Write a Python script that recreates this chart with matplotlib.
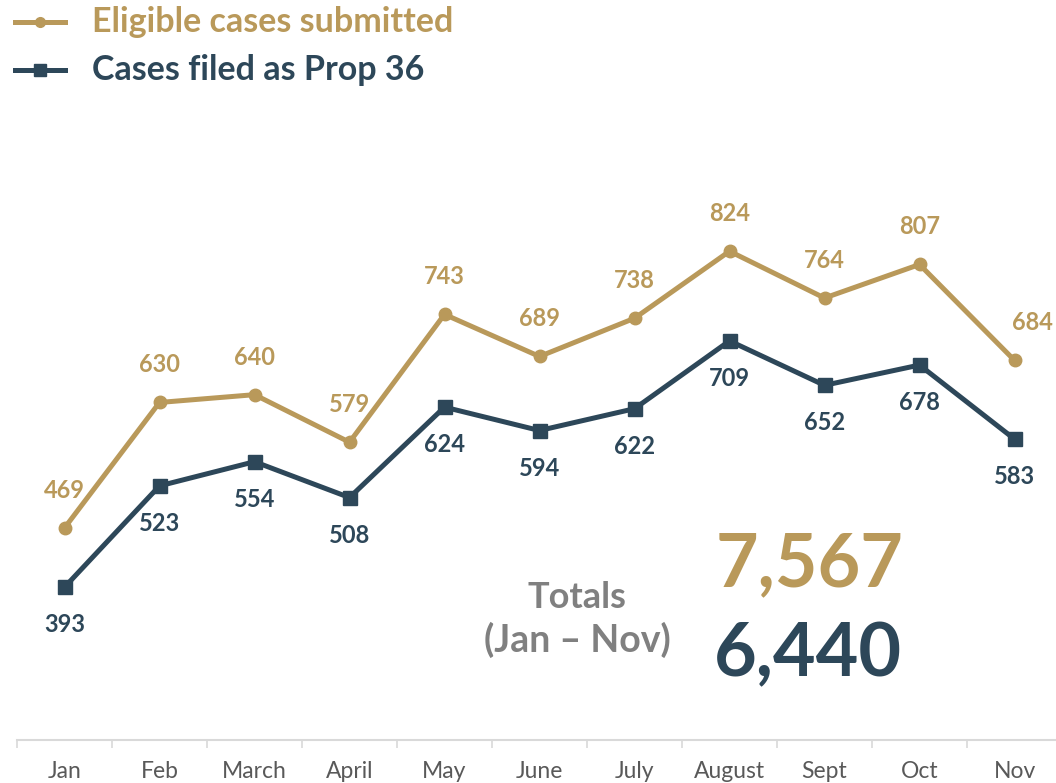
import matplotlib
matplotlib.use("Agg")
import matplotlib.pyplot as plt

plt.rcParams['font.family'] = ['Lato', 'DejaVu Sans']

months = ["Jan", "Feb", "March", "April", "May", "June", "July",
          "August", "Sept", "Oct", "Nov"]
eligible = [469, 630, 640, 579, 743, 689, 738, 824, 764, 807, 684]
filed = [393, 523, 554, 508, 624, 594, 622, 709, 652, 678, 583]
total_eligible = "7,567"
total_filed = "6,440"

GOLD = "#B9995A"
NAVY = "#2D4759"
GRAY = "#808080"

fig = plt.figure(figsize=(10.56, 7.83), dpi=100)
ax = fig.add_axes([17 / 1056, 43 / 783, 1045 / 1056, 640 / 783])

x = list(range(len(months)))
ax.plot(x, eligible, color=GOLD, lw=3.6, marker="o", ms=9, zorder=3)
ax.plot(x, filed, color=NAVY, lw=3.6, marker="s", ms=9.5, zorder=3)

for i, v in enumerate(eligible):
    dx = 13 if i == len(months) - 1 else 0
    ax.annotate(str(v), (i, v), xytext=(dx, 27), textcoords="offset points",
                ha="center", va="center", fontsize=17, fontweight="bold",
                color=GOLD, annotation_clip=False)
for i, v in enumerate(filed):
    ax.annotate(str(v), (i, v), xytext=(0, -27), textcoords="offset points",
                ha="center", va="center", fontsize=17, fontweight="bold",
                color=NAVY)

ax.set_xlim(-0.5, len(months) - 0.5)
ax.set_ylim(197, 1018)
for s in ["top", "right", "left"]:
    ax.spines[s].set_visible(False)
ax.spines["bottom"].set_color("#D9D9D9")
ax.spines["bottom"].set_linewidth(1.5)
ax.set_yticks([])
ax.set_xticks(x)
ax.set_xticklabels(months, fontsize=16.5, color="#595959")
ax.tick_params(axis="x", which="major", length=0, pad=15)
ax.set_xticks([i - 0.5 for i in range(len(months) + 1)], minor=True)
ax.tick_params(axis="x", which="minor", length=6, width=1.2, color="#D9D9D9")

# legend
fig.lines.append(plt.Line2D([15 / 1056, 65 / 1056], [1 - 22 / 783] * 2,
                            transform=fig.transFigure, color=GOLD, lw=3.6))
fig.lines.append(plt.Line2D([40 / 1056], [1 - 22 / 783], transform=fig.transFigure,
                            color=GOLD, marker="o", ms=7))
fig.lines.append(plt.Line2D([15 / 1056, 65 / 1056], [1 - 70 / 783] * 2,
                            transform=fig.transFigure, color=NAVY, lw=3.6))
fig.lines.append(plt.Line2D([40 / 1056], [1 - 70 / 783], transform=fig.transFigure,
                            color=NAVY, marker="s", ms=8))
fig.text(92 / 1056, 1 - 22 / 783, "Eligible cases submitted", color=GOLD,
         fontsize=24.5, fontweight="bold", va="center")
fig.text(92 / 1056, 1 - 70 / 783, "Cases filed as Prop 36", color=NAVY,
         fontsize=24.5, fontweight="bold", va="center")

# totals
fig.text(577 / 1056, 1 - 597 / 783, "Totals", color=GRAY, fontsize=26,
         fontweight="bold", ha="center", va="center")
fig.text(577 / 1056, 1 - 640 / 783, "(Jan \u2013 Nov)", color=GRAY, fontsize=27,
         fontweight="bold", ha="center", va="center")
fig.text(810 / 1056, 1 - 565 / 783, total_eligible, color=GOLD, fontsize=53,
         fontweight="bold", ha="center", va="center")
fig.text(808 / 1056, 1 - 655 / 783, total_filed, color=NAVY, fontsize=53,
         fontweight="bold", ha="center", va="center")

fig.savefig("out.png", dpi=100)
